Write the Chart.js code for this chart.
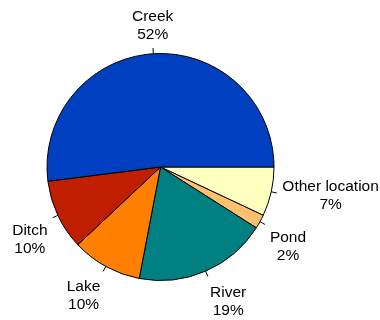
<!DOCTYPE html>
<html>
<head>
<meta charset="utf-8">
<script src="https://cdn.jsdelivr.net/npm/chart.js@4"></script>
<style>
  body { margin: 0; background: #fff; }
  #wrap { width: 380px; height: 320px; }
</style>
</head>
<body>
<div id="wrap"><canvas id="pieChart" width="380" height="320"></canvas></div>
<script>
// slices in counter-clockwise order starting at 3 o'clock
const locations = ["Creek", "Ditch", "Lake", "River", "Pond", "Other location"];
const counts = [52, 10, 10, 19, 2, 7];
const sliceColors = ["#0040C0", "#BF1E00", "#FF8000", "#008080", "#FFC070", "#FFFFBF"];

const total = counts.reduce((a, b) => a + b, 0);
const percents = counts.map(v => Math.round(v / total * 100) + "%");

// chart.js goes clockwise, so flip the order
const labels = locations.slice().reverse();
const values = counts.slice().reverse();
const colors = sliceColors.slice().reverse();
const pctLabels = percents.slice().reverse();

const outsideLabels = {
    id: "outsideLabels",
    afterDatasetsDraw(chart) {
        const ctx = chart.ctx;
        const arcs = chart.getDatasetMeta(0).data;
        ctx.save();
        ctx.font = "15.5px 'Liberation Sans', Arial, sans-serif";
        ctx.fillStyle = "#000";
        ctx.strokeStyle = "#000";
        ctx.lineWidth = 1;
        ctx.textBaseline = "alphabetic";
        const lineH = 18;
        const capH = 11;
        arcs.forEach((arc, i) => {
            const mid = (arc.startAngle + arc.endAngle) / 2;
            const r = arc.outerRadius;
            const c = Math.cos(mid), s = Math.sin(mid);

            ctx.beginPath();
            ctx.moveTo(arc.x + r * c, arc.y + r * s);
            ctx.lineTo(arc.x + 1.05 * r * c, arc.y + 1.05 * r * s);
            ctx.stroke();

            const px = arc.x + 1.1 * r * c;
            const py = arc.y + 1.1 * r * s;
            const lines = [labels[i], pctLabels[i]];
            const w = Math.max(...lines.map(t => ctx.measureText(t).width));

            let cx;
            if (Math.abs(c) < 0.15) cx = px;
            else if (c > 0) cx = px + w / 2;
            else cx = px - w / 2;

            let firstBase;
            if (s < -0.3) firstBase = py - 3 - lineH;        // above the pie
            else if (s > 0.3) firstBase = py + 4 + capH;     // below the pie
            else firstBase = py - (lineH + capH) / 2 + capH; // beside it

            ctx.textAlign = "center";
            lines.forEach((t, k) => ctx.fillText(t, cx, firstBase + k * lineH));
        });
        ctx.restore();
    }
};

new Chart(document.getElementById("pieChart"), {
    type: "pie",
    data: {
        labels: labels,
        datasets: [{
            data: values,
            backgroundColor: colors,
            borderColor: "#000",
            borderWidth: 1
        }]
    },
    options: {
        responsive: false,
        animation: false,
        rotation: 90,
        layout: { padding: { left: 46.5, right: 105.5, top: 53, bottom: 39 } },
        plugins: {
            legend: { display: false },
            tooltip: { enabled: false }
        }
    },
    plugins: [outsideLabels]
});
</script>
</body>
</html>
